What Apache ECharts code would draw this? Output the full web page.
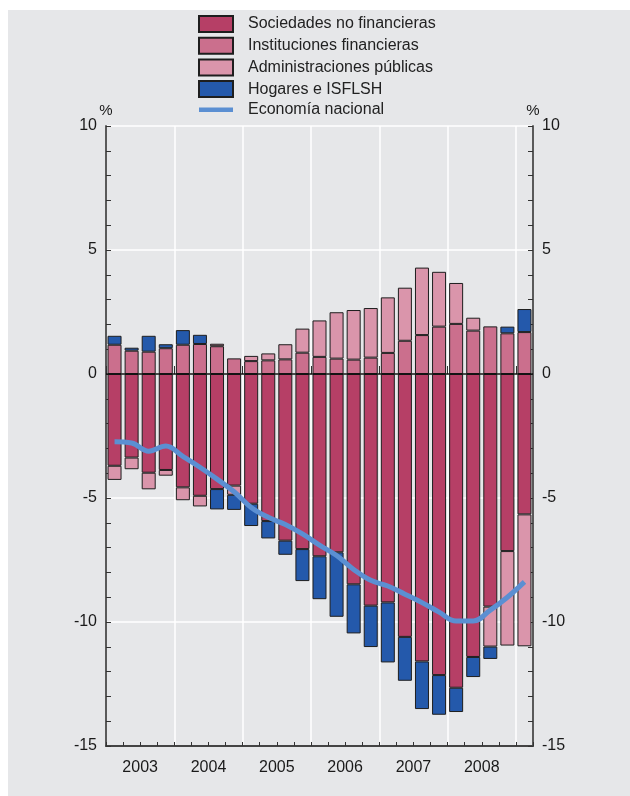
<!DOCTYPE html>
<html>
<head>
<meta charset="utf-8">
<script src="https://cdn.jsdelivr.net/npm/echarts@6/dist/echarts.min.js"></script>
<style>
  html, body { margin: 0; padding: 0; background: #ffffff; width: 630px; height: 796px; overflow: hidden; }
  #chart { position: absolute; left: 8px; top: 10px; width: 622px; height: 786px; }
</style>
</head>
<body>
<div id="chart"></div>
<script>
// Quarters 2003-T1 .. 2009-T1
const quarters = [
  '2003-T1','2003-T2','2003-T3','2003-T4',
  '2004-T1','2004-T2','2004-T3','2004-T4',
  '2005-T1','2005-T2','2005-T3','2005-T4',
  '2006-T1','2006-T2','2006-T3','2006-T4',
  '2007-T1','2007-T2','2007-T3','2007-T4',
  '2008-T1','2008-T2','2008-T3','2008-T4',
  '2009-T1'
];
const years = ['2003','2004','2005','2006','2007','2008'];

const sociedades = [-3.70,-3.37,-3.98,-3.87,-4.57,-4.91,-4.64,-4.50,-5.23,-5.93,-6.72,-7.06,-7.35,-7.19,-8.48,-9.34,-9.21,-10.60,-11.59,-12.14,-12.65,-11.41,-9.38,-7.14,-5.66];
const instituciones = [1.18,0.94,0.90,1.04,1.18,1.21,1.12,0.63,0.52,0.55,0.59,0.86,0.69,0.62,0.58,0.66,0.85,1.34,1.57,1.91,2.02,1.75,1.92,1.64,1.69];
const administraciones = [-0.57,-0.47,-0.67,-0.23,-0.52,-0.43,0.10,-0.37,0.21,0.28,0.61,0.97,1.47,1.87,2.00,2.00,2.24,2.14,2.72,2.21,1.65,0.52,-1.61,-3.81,-5.32];
const hogares = [0.36,0.12,0.64,0.16,0.59,0.37,-0.82,-0.61,-0.90,-0.70,-0.57,-1.29,-1.73,-2.60,-1.98,-1.67,-2.42,-1.77,-1.92,-1.60,-0.98,-0.81,-0.50,0.27,0.93];
const economia = [-2.73,-2.78,-3.11,-2.90,-3.32,-3.76,-4.24,-4.75,-5.38,-5.78,-6.07,-6.45,-6.90,-7.32,-7.88,-8.32,-8.55,-8.88,-9.22,-9.60,-9.96,-9.96,-9.52,-9.00,-8.38];

// Boundary positions (26) with the year label at the middle of each year
const boundaryLabels = [];
for (let i = 0; i <= quarters.length; i++) {
  boundaryLabels.push(i % 4 === 2 && years[(i - 2) / 4] ? years[(i - 2) / 4] : '');
}

const FONT = "'Liberation Sans', Arial, Helvetica, sans-serif";
const colors = {
  soc: '#b63f66',
  inst: '#cb6f8d',
  admin: '#da95ab',
  hog: '#2459ab',
  line: '#5b8fd2'
};

const barCommon = {
  type: 'bar',
  stack: 'total',
  barWidth: 14,
  xAxisIndex: 0,
  yAxisIndex: 0,
  z: 2
};
const border = { borderColor: '#1e1e1e', borderWidth: 1 };

const yAxisCommon = {
  type: 'value',
  min: -15,
  max: 10,
  interval: 5,
  name: '%',
  nameLocation: 'end',
  nameGap: 3,
  nameTextStyle: { fontSize: 15, color: '#1a1a1a', fontFamily: FONT },
  axisLine: { show: true, lineStyle: { color: '#5a5a5a', width: 2 } },
  axisTick: { show: true, inside: true, length: 5, lineStyle: { color: '#333', width: 1 } },
  minorTick: { show: true, splitNumber: 5, length: 5, lineStyle: { color: '#333', width: 1 } },
  axisLabel: { fontSize: 16, color: '#1a1a1a', fontFamily: FONT, margin: 9 }
};

const chart = echarts.init(document.getElementById('chart'));
chart.setOption({
  backgroundColor: '#e6e7e9',
  animation: false,
  textStyle: { fontFamily: FONT },
  grid: { left: 98, right: 97, top: 116, bottom: 50, containLabel: false },
  legend: {
    orient: 'vertical',
    left: 190,
    top: 5,
    padding: 0,
    itemWidth: 34,
    itemHeight: 16,
    itemGap: 3.7,
    textStyle: { fontSize: 16, lineHeight: 16, color: '#222', fontFamily: FONT, padding: [0, 0, 0, 10] },
    data: [
      { name: 'Sociedades no financieras', icon: 'rect' },
      { name: 'Instituciones financieras', icon: 'rect' },
      { name: 'Administraciones públicas', icon: 'rect' },
      { name: 'Hogares e ISFLSH', icon: 'rect' },
      { name: 'Economía nacional', icon: 'path://M0,0L34,0L34,4.5L0,4.5Z', itemStyle: { color: '#5b8fd2', borderWidth: 0 } }
    ]
  },
  xAxis: [
    {
      type: 'category',
      data: quarters,
      position: 'bottom',
      boundaryGap: true,
      axisLine: { onZero: false, lineStyle: { color: '#444', width: 2 } },
      axisTick: { show: true, inside: true, length: 4, interval: 0, lineStyle: { color: '#333' } },
      axisLabel: { show: false },
      splitLine: {
        show: true,
        interval: function (i) { return i > 0 && i % 4 === 0; },
        lineStyle: { color: '#ffffff', width: 1.5 }
      }
    },
    {
      type: 'category',
      data: boundaryLabels,
      position: 'bottom',
      offset: 0,
      boundaryGap: false,
      axisLine: { show: false },
      axisTick: {
        show: true, inside: true, length: 8,
        interval: function (i) { return i % 4 === 0; },
        lineStyle: { color: '#333' }
      },
      axisLabel: {
        show: true,
        interval: function (i) { return i % 4 === 2; },
        fontSize: 16, color: '#1a1a1a', fontFamily: FONT, margin: 14
      },
      splitLine: { show: false }
    }
  ],
  yAxis: [
    Object.assign({}, yAxisCommon, {
      position: 'left',
      splitLine: { show: true, lineStyle: { color: '#ffffff', width: 1.5 } }
    }),
    Object.assign({}, yAxisCommon, {
      position: 'right',
      splitLine: { show: false }
    })
  ],
  series: [
    Object.assign({}, barCommon, {
      name: 'Sociedades no financieras',
      data: sociedades,
      itemStyle: Object.assign({ color: colors.soc }, border),
      markLine: {
        silent: true,
        symbol: ['none', 'none'],
        label: { show: false },
        lineStyle: { color: '#111', width: 1.5, type: 'solid' },
        data: [{ yAxis: 0 }],
        z: 4
      }
    }),
    Object.assign({}, barCommon, {
      name: 'Instituciones financieras',
      data: instituciones,
      itemStyle: Object.assign({ color: colors.inst }, border)
    }),
    Object.assign({}, barCommon, {
      name: 'Administraciones públicas',
      data: administraciones,
      itemStyle: Object.assign({ color: colors.admin }, border)
    }),
    Object.assign({}, barCommon, {
      name: 'Hogares e ISFLSH',
      data: hogares,
      itemStyle: Object.assign({ color: colors.hog }, border)
    }),
    {
      name: 'Economía nacional',
      type: 'line',
      xAxisIndex: 0,
      yAxisIndex: 0,
      data: economia,
      smooth: 0.4,
      symbol: 'none',
      showSymbol: false,
      lineStyle: { width: 5, color: colors.line },
      itemStyle: { color: colors.line },
      z: 6
    }
  ]
});
</script>
</body>
</html>
